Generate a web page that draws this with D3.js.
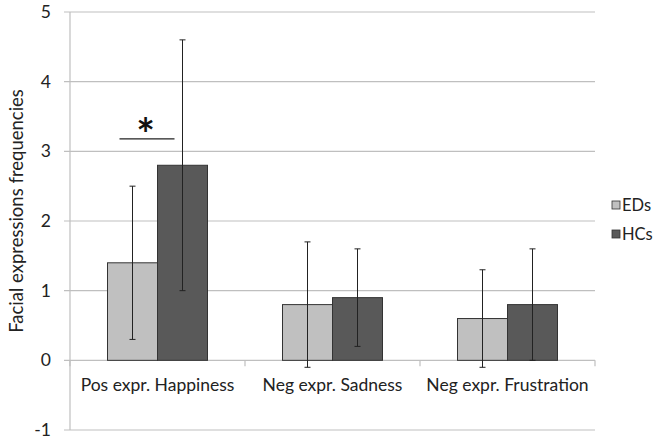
<!DOCTYPE html>
<html>
<head>
<meta charset="utf-8">
<script src="https://cdn.jsdelivr.net/npm/d3@7"></script>
<style>
body { margin: 0; background: #fff; }
text { font-family: Lato, "Open Sans", sans-serif; }
</style>
</head>
<body>
<svg width="664" height="442"></svg>
<script>
var categories = ["Pos expr. Happiness", "Neg expr. Sadness", "Neg expr. Frustration"]
var groups = ["EDs", "HCs"]
var edValues = [1.4, 0.8, 0.6]
var hcValues = [2.8, 0.9, 0.8]
var edErr = [1.1, 0.9, 0.7]
var hcErr = [1.8, 0.7, 0.8]
var yTicks = [-1, 0, 1, 2, 3, 4, 5]
var colors = ["#c0c0c0", "#595959"]

var margin = {left: 70, top: 12, right: 69, bottom: 12}
var width = 595 - margin.left
var height = 430 - margin.top

var svg = d3.select("svg")
var g = svg.append("g").attr("transform", "translate(" + margin.left + "," + margin.top + ")")

var y = d3.scaleLinear().domain([-1, 5]).range([height, 0])
var x0 = d3.scaleBand().domain(categories).range([0, width]).paddingInner(0).paddingOuter(0)
var x1 = d3.scaleBand().domain(groups).range([0, x0.bandwidth()]).paddingInner(0).paddingOuter(0.75)

// gridlines
g.append("g").selectAll("line").data(yTicks).enter().append("line")
  .attr("x1", -6).attr("x2", width)
  .attr("y1", function(d){return y(d)}).attr("y2", function(d){return y(d)})
  .attr("stroke", "#bfbfbf").attr("stroke-width", 1.2)

// y axis line
g.append("line").attr("x1", 0).attr("x2", 0).attr("y1", 0).attr("y2", height)
  .attr("stroke", "#bfbfbf").attr("stroke-width", 1.2)

// category ticks on zero line
g.append("g").selectAll("line").data(d3.range(categories.length + 1)).enter().append("line")
  .attr("x1", function(i){return i * x0.step()}).attr("x2", function(i){return i * x0.step()})
  .attr("y1", y(0)).attr("y2", y(0) + 6)
  .attr("stroke", "#bfbfbf").attr("stroke-width", 1.2)

g.append("g").selectAll("text").data(yTicks).enter().append("text")
  .attr("x", -19).attr("y", function(d){return y(d)}).attr("dy", "0.35em")
  .attr("text-anchor", "end").attr("font-size", 17.5).attr("fill", "#222")
  .text(function(d){return d})

// bars
var rows = []
categories.forEach(function(c, i){
  rows.push({cat: c, grp: "EDs", v: edValues[i], e: edErr[i], col: colors[0]})
  rows.push({cat: c, grp: "HCs", v: hcValues[i], e: hcErr[i], col: colors[1]})
})

g.selectAll("rect.bar").data(rows).enter().append("rect")
  .attr("class", "bar")
  .attr("x", function(d){return x0(d.cat) + x1(d.grp)})
  .attr("y", function(d){return y(d.v)})
  .attr("width", x1.bandwidth())
  .attr("height", function(d){return y(0) - y(d.v)})
  .attr("fill", function(d){return d.col})
  .attr("stroke", "#333").attr("stroke-width", 1)

// error bars
var eb = g.selectAll("g.err").data(rows).enter().append("g").attr("class", "err")
  .attr("transform", function(d){return "translate(" + (x0(d.cat) + x1(d.grp) + x1.bandwidth() / 2) + ",0)"})
eb.append("line").attr("x1", 0).attr("x2", 0)
  .attr("y1", function(d){return y(d.v + d.e)}).attr("y2", function(d){return y(d.v - d.e)})
  .attr("stroke", "#222").attr("stroke-width", 1)
eb.append("line").attr("x1", -3).attr("x2", 3)
  .attr("y1", function(d){return y(d.v + d.e)}).attr("y2", function(d){return y(d.v + d.e)})
  .attr("stroke", "#222").attr("stroke-width", 1)
eb.append("line").attr("x1", -3).attr("x2", 3)
  .attr("y1", function(d){return y(d.v - d.e)}).attr("y2", function(d){return y(d.v - d.e)})
  .attr("stroke", "#222").attr("stroke-width", 1)

// category labels
g.selectAll("text.cat").data(categories).enter().append("text")
  .attr("class", "cat")
  .attr("x", function(d){return x0(d) + x0.bandwidth() / 2})
  .attr("y", y(0) + 31)
  .attr("text-anchor", "middle").attr("font-size", 17.5).attr("fill", "#222")
  .text(function(d){return d})

// significance marker
var sx = x0(categories[0]) + x1("EDs") + x1.bandwidth() / 2
g.append("line").attr("x1", sx - 13).attr("x2", sx + 42)
  .attr("y1", y(3.18)).attr("y2", y(3.18)).attr("stroke", "#222").attr("stroke-width", 1.3)
g.append("text").attr("x", sx + 13).attr("y", y(3.18) + 11)
  .attr("text-anchor", "middle").attr("font-size", 44).attr("font-weight", "bold")
  .attr("fill", "#111").text("*")

// y axis title
svg.append("text").attr("transform", "translate(23,211) rotate(-90)")
  .attr("text-anchor", "middle").attr("font-size", 18.5).attr("fill", "#222")
  .text("Facial expressions frequencies")

// legend
var lg = svg.append("g").attr("transform", "translate(612,201)")
groups.forEach(function(gname, i){
  lg.append("rect").attr("x", 0).attr("y", i * 29).attr("width", 8).attr("height", 8)
    .attr("fill", colors[i]).attr("stroke", "#333").attr("stroke-width", 0.8)
  lg.append("text").attr("x", 10).attr("y", i * 29 + 4).attr("dy", "0.35em")
    .attr("font-size", 16.5).attr("fill", "#222").text(gname)
})
</script>
</body>
</html>
